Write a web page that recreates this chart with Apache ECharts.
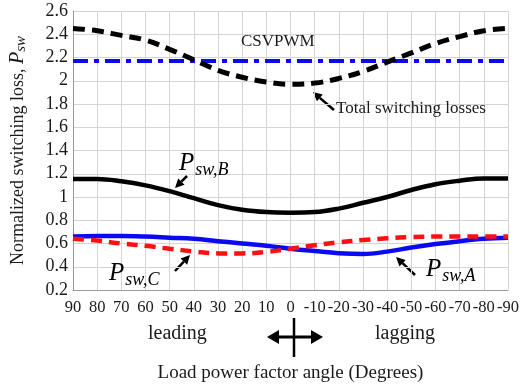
<!DOCTYPE html>
<html>
<head>
<meta charset="utf-8">
<script src="https://cdn.jsdelivr.net/npm/echarts@6/dist/echarts.min.js"></script>
<style>
  html, body { margin: 0; padding: 0; background: #fff; }
  #chart { width: 522px; height: 390px; }
</style>
</head>
<body>
<div id="chart"></div>
<script>
  // 负载功率因数角 (deg), 90 leading -> -90 lagging
  var angles = [90, 80, 70, 60, 50, 40, 30, 20, 10, 0, -10, -20, -30, -40, -50, -60, -70, -80, -90]
  var totalLoss = [2.45, 2.43, 2.39, 2.35, 2.27, 2.18, 2.09, 2.03, 1.99, 1.97, 1.98, 2.02, 2.08, 2.16, 2.24, 2.32, 2.38, 2.43, 2.45]
  var pswB = [1.155, 1.155, 1.135, 1.1, 1.05, 0.99, 0.93, 0.89, 0.87, 0.865, 0.87, 0.9, 0.95, 1.0, 1.06, 1.11, 1.14, 1.16, 1.16]
  var pswA = [0.66, 0.665, 0.665, 0.66, 0.65, 0.64, 0.62, 0.6, 0.58, 0.555, 0.535, 0.517, 0.51, 0.53, 0.565, 0.595, 0.62, 0.64, 0.65]
  var pswC = [0.64, 0.625, 0.6, 0.58, 0.555, 0.532, 0.515, 0.515, 0.527, 0.555, 0.585, 0.61, 0.63, 0.645, 0.655, 0.66, 0.66, 0.66, 0.66]
  var csvAngles = [90, -90]
  var csvLoss = [2.17, 2.17]

  var serif = '"Liberation Serif", "DejaVu Serif", serif'
  var txtColor = '#1a1a1a'

  function pairs(xs, ys) {
    return xs.map(function (x, i) { return [x, ys[i]] })
  }

  // 箭头: 从 (x1,y1) 指向 (x2,y2)
  function arrow(x1, y1, x2, y2) {
    var a = Math.atan2(y2 - y1, x2 - x1)
    var len = 9, w = 4.5
    var bx = x2 - len * Math.cos(a), by = y2 - len * Math.sin(a)
    var px = -Math.sin(a) * w, py = Math.cos(a) * w
    return {
      type: 'group', z: 100,
      children: [
        { type: 'line', shape: { x1: x1, y1: y1, x2: bx, y2: by }, style: { stroke: '#000', lineWidth: 2.5 } },
        { type: 'polygon', shape: { points: [[x2, y2], [bx + px, by + py], [bx - px, by - py]] }, style: { fill: '#000' } }
      ]
    }
  }

  var subRich = {
    p: { fontFamily: serif, fontStyle: 'italic', fontSize: 25, lineHeight: 25, verticalAlign: 'top', color: txtColor },
    s: { fontFamily: serif, fontStyle: 'italic', fontSize: 18, lineHeight: 18, padding: [10, 0, 0, 1], verticalAlign: 'top', color: txtColor }
  }

  function subLabel(x, y, sub) {
    return {
      type: 'text', left: x, top: y, z: 100,
      style: { text: '{p|P}{s|' + sub + '}', rich: subRich }
    }
  }

  function plainText(x, y, s, size) {
    return {
      type: 'text', left: x, top: y, z: 100,
      style: { text: s, fontFamily: serif, fontSize: size, fill: txtColor }
    }
  }

  var chart = echarts.init(document.getElementById('chart'))
  chart.setOption({
    animation: false,
    backgroundColor: '#fff',
    grid: { left: 73, right: 10, top: 11, bottom: 100 },
    xAxis: {
      type: 'value', inverse: true, min: -90, max: 90, interval: 10,
      name: 'Load power factor angle (Degrees)',
      nameLocation: 'middle', nameGap: 74,
      nameTextStyle: { fontFamily: serif, fontSize: 19, color: txtColor },
      axisLine: { onZero: false, lineStyle: { color: '#9a9a9a', width: 1 } },
      axisTick: { show: false },
      axisLabel: { fontFamily: serif, fontSize: 16.5, color: txtColor, margin: 9 },
      splitLine: { show: true, lineStyle: { color: '#d4d4d4', width: 1 } }
    },
    yAxis: {
      type: 'value', min: 0.2, max: 2.6, interval: 0.2,
      name: 'Normalized switching loss, {p|P}{s|sw}',
      nameLocation: 'middle', nameGap: 44, nameRotate: 90,
      nameTextStyle: {
        fontFamily: serif, fontSize: 18, color: txtColor,
        rich: {
          p: { fontFamily: serif, fontStyle: 'italic', fontSize: 20, color: txtColor },
          s: { fontFamily: serif, fontStyle: 'italic', fontSize: 15, color: txtColor, padding: [7, 0, 0, 0] }
        }
      },
      axisLine: { show: true, onZero: false, lineStyle: { color: '#9a9a9a', width: 1 } },
      axisTick: { show: false },
      axisLabel: {
        fontFamily: serif, fontSize: 18, color: txtColor, margin: 5,
        formatter: function (v) { return String(+v.toFixed(1)) }
      },
      splitLine: { show: true, lineStyle: { color: '#d4d4d4', width: 1 } }
    },
    series: [
      {
        name: 'CSVPWM', type: 'line', symbol: 'none', z: 3,
        data: pairs(csvAngles, csvLoss),
        lineStyle: { color: '#0a0af0', width: 4, type: [15, 6, 5, 6] }
      },
      {
        name: 'Total', type: 'line', symbol: 'none', smooth: 0.4, z: 4,
        data: pairs(angles, totalLoss),
        lineStyle: { color: '#000', width: 5, type: [12, 7] }
      },
      {
        name: 'Psw,B', type: 'line', symbol: 'none', smooth: 0.4,
        data: pairs(angles, pswB),
        lineStyle: { color: '#000', width: 4.5 }
      },
      {
        name: 'Psw,A', type: 'line', symbol: 'none', smooth: 0.4,
        data: pairs(angles, pswA),
        lineStyle: { color: '#0a0af0', width: 4.5 }
      },
      {
        name: 'Psw,C', type: 'line', symbol: 'none', smooth: 0.4, z: 4,
        data: pairs(angles, pswC),
        lineStyle: { color: '#ff1010', width: 4.5, type: [11, 7] }
      }
    ],
    graphic: [
      plainText(241, 33, 'CSVPWM', 17),
      plainText(336, 100, 'Total switching losses', 17),
      arrow(334, 110, 313, 92),
      subLabel(179, 151, 'sw,B'),
      arrow(187, 176, 175, 188),
      subLabel(109, 261, 'sw,C'),
      arrow(175, 271, 190, 255),
      subLabel(426, 257, 'sw,A'),
      arrow(415, 275, 396, 257),
      plainText(148, 324, 'leading', 20),
      plainText(375, 324, 'lagging', 20),
      {
        type: 'group', z: 100,
        children: [
          { type: 'line', shape: { x1: 294, y1: 318, x2: 294, y2: 357 }, style: { stroke: '#000', lineWidth: 2.5 } },
          { type: 'line', shape: { x1: 276, y1: 337, x2: 314, y2: 337 }, style: { stroke: '#000', lineWidth: 3 } },
          { type: 'polygon', shape: { points: [[267, 337], [279, 330], [279, 344]] }, style: { fill: '#000' } },
          { type: 'polygon', shape: { points: [[323, 337], [311, 330], [311, 344]] }, style: { fill: '#000' } }
        ]
      }
    ]
  })
</script>
</body>
</html>
